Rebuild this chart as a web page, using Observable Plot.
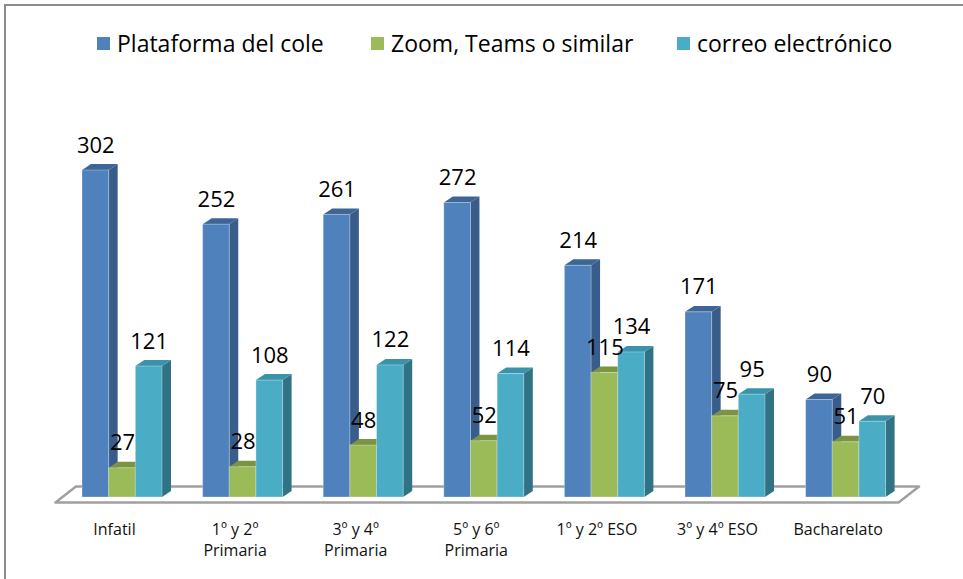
<!DOCTYPE html>
<html>
<head>
<meta charset="utf-8">
<script src="https://cdn.jsdelivr.net/npm/d3@7"></script>
<script src="https://cdn.jsdelivr.net/npm/@observablehq/plot@0.6"></script>
<style>
  body { margin: 0; background: #fff; }
  #wrap { position: relative; width: 963px; height: 579px; overflow: hidden; font-family: "Open Sans", sans-serif; }
  #frame { position: absolute; left: 4px; top: 4px; width: 1000px; height: 620px; border: 2px solid #8c8c8c; pointer-events: none; }
  #legend { position: relative; height: 92px; }
  .item { position: absolute; top: 27px; display: flex; align-items: center; font-size: 23px; color: #000; white-space: nowrap; }
  .sw { width: 13px; height: 13px; margin-right: 7px; }
  #chart svg { display: block; }
</style>
</head>
<body>
<div id="wrap">
  <div id="legend"></div>
  <div id="chart"></div>
  <div id="frame"></div>
</div>
<script>
const categories = ["Infatil", "1º y 2º\nPrimaria", "3º y 4º\nPrimaria", "5º y 6º\nPrimaria", "1º y 2º ESO", "3º y 4º ESO", "Bacharelato"];
const seriesNames = ["Plataforma del cole", "Zoom, Teams o similar", "correo electrónico"];
const plataforma = [302, 252, 261, 272, 214, 171, 90];
const zoomTeams = [27, 28, 48, 52, 115, 75, 51];
const correo = [121, 108, 122, 114, 134, 95, 70];

const frontColors = ["#4f81bd", "#9bbb59", "#4bacc6"];
const sideColors = ["#385d8a", "#71893f", "#2f7384"];
const topColors = ["#3d6596", "#7b9443", "#3a93aa"];
const legendLeft = [97, 371, 677];

// legend
const legend = document.getElementById("legend");
seriesNames.forEach((name, s) => {
  const it = document.createElement("div");
  it.className = "item";
  it.style.left = legendLeft[s] + "px";
  it.innerHTML = `<span class="sw" style="background:${frontColors[s]}"></span><span>${name}</span>`;
  legend.appendChild(it);
});

const series = [plataforma, zoomTeams, correo];
const barW = 0.2211;         // bar width in group units
const depthX = 0.0746;       // depth offset (x units)
const depthY = 5.5;          // depth offset (y units)

const bars = [];
series.forEach((vals, s) => {
  vals.forEach((v, i) => {
    const x1 = i + (s - 1.5) * barW;
    bars.push({id: `${s}-${i}`, s, i, v, x1, x2: x1 + barW, xc: x1 + barW / 2});
  });
});

const sides = bars.flatMap(b => [
  {id: b.id, s: b.s, x: b.x2, y1: 0, y2: b.v},
  {id: b.id, s: b.s, x: b.x2 + depthX, y1: depthY, y2: b.v + depthY}
]);
const tops = bars.flatMap(b => [
  {id: b.id, s: b.s, x: b.x1, y1: b.v, y2: b.v},
  {id: b.id, s: b.s, x: b.x1 + depthX, y1: b.v, y2: b.v + depthY},
  {id: b.id, s: b.s, x: b.x2, y1: b.v, y2: b.v + depthY},
  {id: b.id, s: b.s, x: b.x2 + depthX, y1: b.v + depthY, y2: b.v + depthY}
]);

// floor (3D base plane)
const floorFrontY = -4.6, floorL = -0.556, floorR = 6.435, floorDX = 0.17, floorDY = 14.8;
const floor = [
  {x: floorL, y: floorFrontY},
  {x: floorR, y: floorFrontY},
  {x: floorR + floorDX, y: floorFrontY + floorDY},
  {x: floorL + floorDX, y: floorFrontY + floorDY},
  {x: floorL, y: floorFrontY}
];

const cats = categories.map((c, i) => ({c, i}));

const plot = Plot.plot({
  width: 963,
  height: 487,
  marginLeft: 122,
  marginRight: 117.4,
  marginTop: 78,
  marginBottom: 82,
  x: {domain: [0, categories.length - 1], axis: null},
  y: {domain: [0, d3.max(plataforma)], axis: null},
  style: {fontFamily: "Open Sans", background: "transparent"},
  marks: [
    Plot.line(floor, {x: "x", y: "y", stroke: "#a0a0a0", strokeWidth: 2.5}),
    Plot.areaY(sides, {x: "x", y1: "y1", y2: "y2", z: "id", fill: d => sideColors[d.s]}),
    Plot.areaY(tops, {x: "x", y1: "y1", y2: "y2", z: "id", fill: d => topColors[d.s]}),
    Plot.rect(bars, {x1: "x1", x2: "x2", y1: () => 0, y2: "v", fill: d => frontColors[d.s], stroke: "#ffffff", strokeOpacity: 0.3, strokeWidth: 1}),
    Plot.text(bars, {x: "xc", y: "v", text: d => String(d.v), dy: -25, fontSize: 22, fill: "#000"}),
    Plot.text(cats, {x: "i", y: () => 0, text: "c", dx: -8, dy: 22, lineAnchor: "top", lineHeight: 1.35, fontSize: 16, fill: "#111"})
  ]
});
document.getElementById("chart").appendChild(plot);
</script>
</body>
</html>
